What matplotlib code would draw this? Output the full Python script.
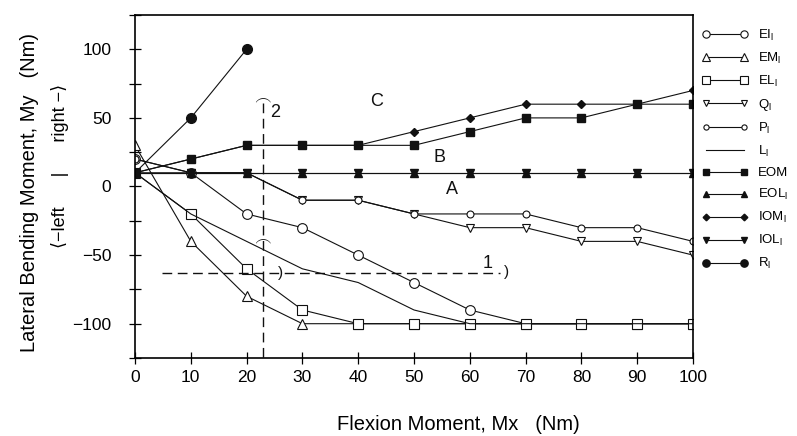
import matplotlib
matplotlib.use("Agg")
import matplotlib.pyplot as plt

plt.rcParams["font.family"] = ["Liberation Sans", "DejaVu Sans"]
plt.rcParams["mathtext.fontset"] = "custom"
plt.rcParams["mathtext.rm"] = "Liberation Sans"

# flexion moment steps (Nm)
mx = [0, 10, 20, 30, 40, 50, 60, 70, 80, 90, 100]

# lateral bending moment per loading case (Nm)
ei = [20, 10, -20, -30, -50, -70, -90, -100, -100, -100, -100]
em = [30, -40, -80, -100, -100, -100, -100, -100, -100, -100, -100]
el = [10, -20, -60, -90, -100, -100, -100, -100, -100, -100, -100]
q = [10, 10, 10, -10, -10, -20, -30, -30, -40, -40, -50]
p = [20, 10, 10, -10, -10, -20, -20, -20, -30, -30, -40]
l = [10, -20, -40, -60, -70, -90, -100, -100, -100, -100, -100]
eom = [10, 20, 30, 30, 30, 30, 40, 50, 50, 60, 60]
eol = [10, 10, 10, 10, 10, 10, 10, 10, 10, 10, 10]
iom = [10, 20, 30, 30, 30, 40, 50, 60, 60, 60, 70]
iol = [10, 10, 10, 10, 10, 10, 10, 10, 10, 10, 10]
r_mx = [0, 10, 20]
r = [10, 50, 100]

fig = plt.figure(figsize=(7.97, 4.36), dpi=100)
ax = fig.add_axes([0.1694, 0.1789, 0.7001, 0.7867])

k = "#111111"
lw = 0.8
ax.plot(mx, ei, color=k, lw=lw, marker="o", ms=7, mfc="white", mec=k, mew=0.8, label="EI$_\\mathregular{l}$")
ax.plot(mx, em, color=k, lw=lw, marker="^", ms=7, mfc="white", mec=k, mew=0.8, label="EM$_\\mathregular{l}$")
ax.plot(mx, el, color=k, lw=lw, marker="s", ms=7.5, mfc="white", mec=k, mew=0.8, label="EL$_\\mathregular{l}$")
ax.plot(mx, q, color=k, lw=lw, marker="v", ms=6, mfc="white", mec=k, mew=0.8, label="Q$_\\mathregular{l}$")
ax.plot(mx, p, color=k, lw=lw, marker="o", ms=5, mfc="white", mec=k, mew=0.8, label="P$_\\mathregular{l}$")
ax.plot(mx, l, color=k, lw=lw, label="L$_\\mathregular{l}$")
ax.plot(mx, eom, color=k, lw=lw, marker="s", ms=6, mfc=k, mec=k, label="EOM")
ax.plot(mx, eol, color=k, lw=lw, marker="^", ms=6, mfc=k, mec=k, label="EOL$_\\mathregular{l}$")
ax.plot(mx, iom, color=k, lw=lw, marker="D", ms=4.5, mfc=k, mec=k, label="IOM$_\\mathregular{l}$")
ax.plot(mx, iol, color=k, lw=lw, marker="v", ms=6, mfc=k, mec=k, label="IOL$_\\mathregular{l}$")
ax.plot(r_mx, r, color=k, lw=lw, marker="o", ms=7, mfc=k, mec=k, label="R$_\\mathregular{l}$")

# reference lines 1 and 2
ax.plot([23, 23], [61, -125], color=k, lw=1.0, ls=(0, (7, 4)))
ax.plot([4.8, 65.5], [-63, -63], color=k, lw=1.0, ls=(0, (7, 4)))
ax.text(22.7, 64, r"$\frown$", ha="center", va="center", fontsize=12, color=k)
ax.text(22.7, -39, r"$\frown$", ha="center", va="center", fontsize=12, color=k)
ax.text(26.0, -63, ")", ha="center", va="center", fontsize=11, color=k)
ax.text(66.6, -62, ")", ha="center", va="center", fontsize=11, color=k)
ax.text(25.2, 54, "2", ha="center", va="center", fontsize=13, color=k)
ax.text(63.2, -56, "1", ha="center", va="center", fontsize=13, color=k)

ax.text(43.3, 62, "C", ha="center", va="center", fontsize=13, color=k)
ax.text(54.5, 21, "B", ha="center", va="center", fontsize=13, color=k)
ax.text(56.8, -2, "A", ha="center", va="center", fontsize=13, color=k)

ax.set_xlim(0, 100)
ax.set_ylim(-125, 125)
ax.set_xticks(range(0, 101, 10))
ax.set_yticks([-100, -50, 0, 50, 100])
ax.set_yticks([-125, -75, -25, 25, 75, 125], minor=True)
ax.tick_params(axis="both", which="both", direction="inout", length=8, width=0.9, labelsize=12.5)
ax.tick_params(axis="x", pad=5)
ax.tick_params(axis="y", pad=13)
for s in ax.spines.values():
    s.set_linewidth(1.2)

fig.text(458 / 797, 1 - 424 / 436, "Flexion Moment, Mx   (Nm)", ha="center", va="center", fontsize=14.5)
fig.text(30 / 797, 1 - 193 / 436, "Lateral Bending Moment, My   (Nm)", ha="center", va="center",
         rotation=90, fontsize=14.5)
fig.text(60 / 797, 1 - 166 / 436, "\u27e8\u2212left      |      right \u2212\u27e9", ha="center", va="center",
         rotation=90, fontsize=13)

ax.legend(loc="upper left", bbox_to_anchor=(0.881, 1 - 28 / 436), bbox_transform=fig.transFigure,
          frameon=False, numpoints=2, handlelength=3.5, handletextpad=0.7, labelspacing=0.6,
          borderpad=0, borderaxespad=0, fontsize=9.5, markerscale=0.75)

fig.savefig("out.png", dpi=100)
